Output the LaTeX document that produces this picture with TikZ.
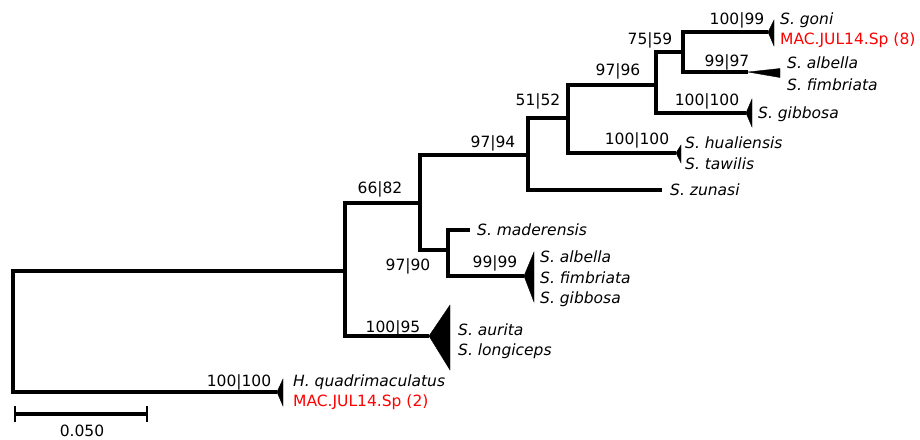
\documentclass[tikz,border=0pt]{standalone}
\usepackage{fontspec}
\setmainfont{DejaVu Sans}
\definecolor{labred}{RGB}{255,0,0}
\tikzset{
  branch/.style={line width=3.4pt, line join=miter},
  clade/.style={fill=black, draw=black, line width=0.4pt, line join=miter},
  txt/.style={inner sep=0pt, yshift=-5.7pt, font=\fontsize{15.5}{18}\selectfont},
  taxon/.style={txt, anchor=base west, font=\fontsize{15.5}{18}\selectfont\itshape},
  redtaxon/.style={txt, anchor=base west, text=labred},
  support/.style={txt, anchor=base}
}
\begin{document}
\begin{tikzpicture}[x=1pt,y=-1pt]
\useasboundingbox (0,0) rectangle (920,439);
% internal nodes
\coordinate (R) at (13,331);
\coordinate (A) at (345,271);
\coordinate (B) at (420,203);
\coordinate (D) at (448,250);
\coordinate (C) at (528,155);
\coordinate (F) at (568,118);
\coordinate (G) at (656,85);
\coordinate (I) at (683,52);
% tips
\coordinate (tH) at (277,392);
\coordinate (tAL) at (429,336);
\coordinate (tE) at (524,276);
\coordinate (tMad) at (470,230);
\coordinate (tZun) at (662,190);
\coordinate (tHua) at (676,153);
\coordinate (tGib) at (746,113);
\coordinate (tGon) at (768,32);
\coordinate (tAlf) at (748,72);
% branches
\draw[branch] (R) |- (A);
\draw[branch] (R) |- (tH);
\draw[branch] (A) |- (B);
\draw[branch] (A) |- (tAL);
\draw[branch] (B) |- (C);
\draw[branch] (B) |- (D);
\draw[branch] (D) |- (tMad);
\draw[branch] (D) |- (tE);
\draw[branch] (C) |- (F);
\draw[branch] (C) |- (tZun);
\draw[branch] (F) |- (G);
\draw[branch] (F) |- (tHua);
\draw[branch] (G) |- (I);
\draw[branch] (G) |- (tGib);
\draw[branch] (I) |- (tGon);
\draw[branch] (I) |- (tAlf);
% collapsed clades
\fill[clade] (tH) -- (283,379) -- (283,406) -- cycle;
\fill[clade] (tAL) -- (450,305) -- (450,370) -- cycle;
\fill[clade] (tE) -- (534,252) -- (534,302) -- cycle;
\fill[clade] (tHua) -- (681,145) -- (681,163) -- cycle;
\fill[clade] (tGib) -- (752,99) -- (752,127) -- cycle;
\fill[clade] (tGon) -- (774,20) -- (774,46) -- cycle;
\fill[clade] (tAlf) -- (780,68.5) -- (780,77.5) -- cycle;
% support values
\node[support] (s1) at (737,19) {100|99};
\node[support] (s2) at (650,39) {75|59};
\node[support] (s3) at (727,61) {99|97};
\node[support] (s4) at (618,70) {97|96};
\node[support] (s5) at (707,100) {100|100};
\node[support] (s6) at (538,100) {51|52};
\node[support] (s7) at (493,142) {97|94};
\node[support] (s8) at (637,139) {100|100};
\node[support] (s9) at (380,188) {66|82};
\node[support] (s10) at (408,265) {97|90};
\node[support] (s11) at (495,262) {99|99};
\node[support] (s12) at (393,327) {100|95};
\node[support] (s13) at (239,380.5) {100|100};
% taxa
\node[taxon] (n1) at (780,19) {S. goni};
\node[redtaxon] (n2) at (780,39) {MAC.JUL14.Sp (8)};
\node[taxon] (n3) at (787,63) {S. albella};
\node[taxon] (n4) at (787,85) {S. fimbriata};
\node[taxon] (n5) at (758,113) {S. gibbosa};
\node[taxon] (n6) at (685,143) {S. hualiensis};
\node[taxon] (n7) at (685,164) {S. tawilis};
\node[taxon] (n8) at (670,190) {S. zunasi};
\node[taxon] (n9) at (477,230) {S. maderensis};
\node[taxon] (n10) at (540,257) {S. albella};
\node[taxon] (n11) at (540,278) {S. fimbriata};
\node[taxon] (n12) at (540,298) {S. gibbosa};
\node[taxon] (n13) at (458,330) {S. aurita};
\node[taxon] (n14) at (458,350) {S. longiceps};
\node[taxon] (n15) at (293,381) {H. quadrimaculatus};
\node[redtaxon] (n16) at (293,401) {MAC.JUL14.Sp (2)};
% scale bar
\coordinate (sbL) at (15,414);
\coordinate (sbR) at (147,414);
\draw[line width=3.2pt] (sbL) -- (sbR);
\draw[line width=2.6pt] ([yshift=-8pt]sbL) -- ([yshift=8pt]sbL);
\draw[line width=2.6pt] ([yshift=-8pt]sbR) -- ([yshift=8pt]sbR);
\node[support] (sb) at (82,431) {0.050};
\end{tikzpicture}
\end{document}
